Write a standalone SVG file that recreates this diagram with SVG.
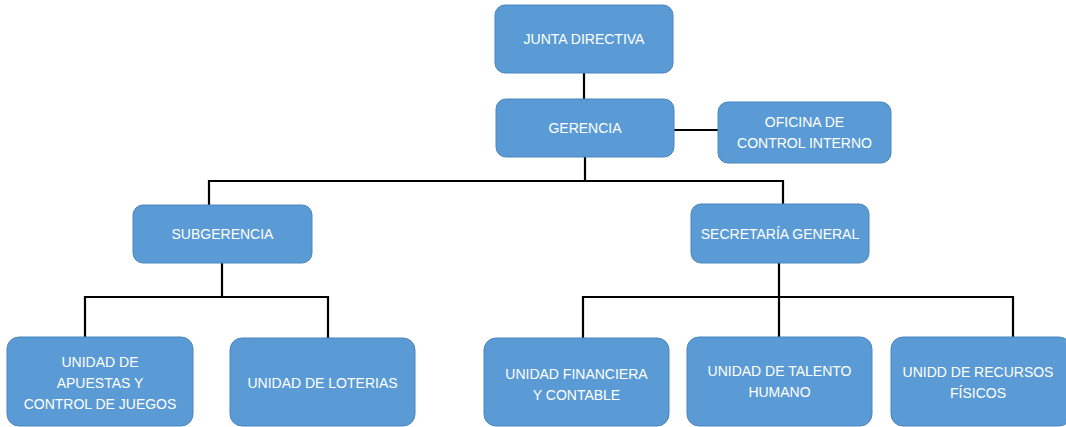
<svg xmlns="http://www.w3.org/2000/svg" width="1066" height="427" viewBox="0 0 1066 427">
<style>
.box{fill:#5B9BD5;stroke:#4A85BD;stroke-width:1}
.t{fill:#FFFFFF;font-family:"Liberation Sans Narrow","Liberation Sans",Arial,sans-serif;font-size:14px;text-anchor:middle;dominant-baseline:central}
.c{fill:none;stroke:#000000;stroke-width:2.2}
</style>
<rect width="1066" height="427" fill="#FFFFFF"/>
<g id="connectors">
<path class="c" d="M584 73V99"/>
<path class="c" d="M674 130H718"/>
<path class="c" d="M585 157V181M209 205V181H783V204"/>
<path class="c" d="M222 263V297M85 338V297H328V338"/>
<path class="c" d="M779 263V337M583 338V297H1013V337"/>
</g>
<g id="junta"><rect class="box" x="495" y="5" width="178" height="68" rx="10"/><text class="t" x="584" y="39">JUNTA DIRECTIVA</text></g>
<g id="gerencia"><rect class="box" x="496" y="99" width="178" height="58" rx="10"/><text class="t" x="585" y="128">GERENCIA</text></g>
<g id="oficina"><rect class="box" x="718" y="102" width="173" height="61" rx="10"/><text class="t" x="804.5" y="122">OFICINA DE</text><text class="t" x="804.5" y="143">CONTROL INTERNO</text></g>
<g id="subgerencia"><rect class="box" x="133" y="205" width="179" height="58" rx="10"/><text class="t" x="222.5" y="234">SUBGERENCIA</text></g>
<g id="secretaria"><rect class="box" x="691" y="204" width="178" height="59" rx="10"/><text class="t" x="780" y="234">SECRETARÍA GENERAL</text></g>
<g id="apuestas"><rect class="box" x="7" y="337" width="186" height="89" rx="12"/><text class="t" x="100" y="362">UNIDAD DE</text><text class="t" x="100" y="383">APUESTAS Y</text><text class="t" x="100" y="404">CONTROL DE JUEGOS</text></g>
<g id="loterias"><rect class="box" x="230" y="338" width="185" height="88" rx="12"/><text class="t" x="322.5" y="383">UNIDAD DE LOTERIAS</text></g>
<g id="financiera"><rect class="box" x="484" y="338" width="185" height="88" rx="12"/><text class="t" x="576.5" y="374">UNIDAD FINANCIERA</text><text class="t" x="576.5" y="395">Y CONTABLE</text></g>
<g id="talento"><rect class="box" x="687" y="337" width="185" height="89" rx="12"/><text class="t" x="779.5" y="371">UNIDAD DE TALENTO</text><text class="t" x="779.5" y="392">HUMANO</text></g>
<g id="recursos"><rect class="box" x="891" y="337" width="180" height="89" rx="12"/><text class="t" x="978" y="372">UNIDD DE RECURSOS</text><text class="t" x="978" y="393">FÍSICOS</text></g>
</svg>
